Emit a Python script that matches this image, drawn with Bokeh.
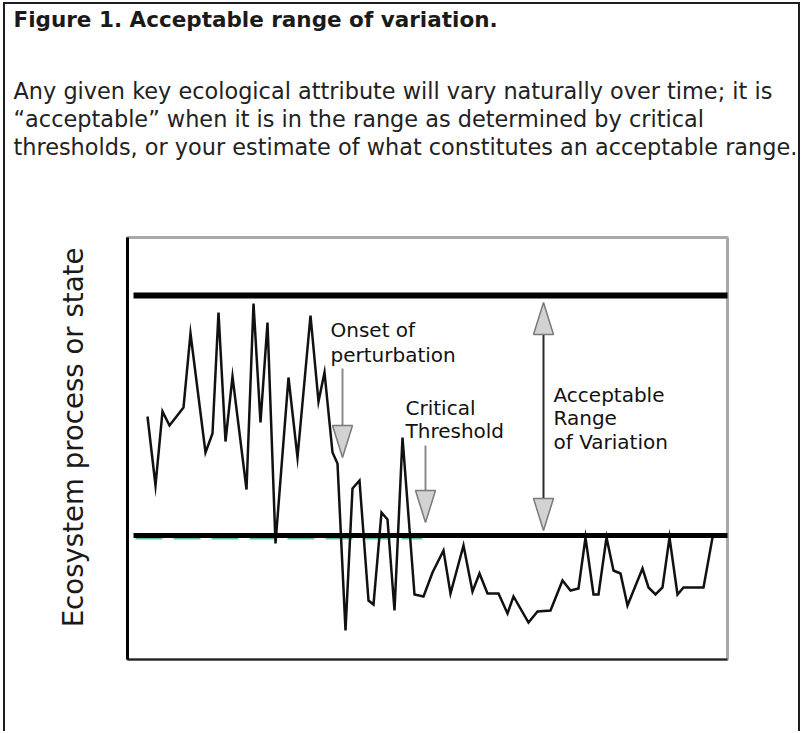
import math
from bokeh.plotting import figure
from bokeh.models import Range1d, Label
from bokeh.layouts import column, row
from bokeh.embed import file_html
from bokeh.resources import INLINE

# ---------------- data ----------------
time = [20, 28, 35, 42, 56, 63, 78, 85, 91, 98, 105, 119, 126, 133, 140, 148, 161, 170, 183, 191,
        197, 205, 210, 218, 225, 232, 241, 246, 254, 260, 267, 275, 287, 296, 305, 316, 323, 336, 345, 352,
        360, 371, 380, 386, 401, 410, 423, 435, 443, 451, 458, 466, 471, 479, 486, 493, 500, 515, 521, 528,
        535, 542, 550, 556, 576, 585]
state = [243, 174, 248, 234, 252, 326, 207, 226, 347, 218, 283, 170, 356, 237, 337, 116, 282, 202, 344, 258,
         287, 207, 196, 29, 171, 179, 59, 55, 147, 140, 49, 222, 65, 63, 87, 109, 66, 114, 68, 86,
         66, 66, 46, 63, 37, 48, 49, 79, 69, 71, 122, 65, 65, 122, 89, 86, 54, 91, 72, 65,
         72, 122, 65, 72, 72, 122]

lower_threshold = 124
upper_threshold = 364
threshold_extent = [6, 603]
green_level = 121
green_extent = [8, 295]

title_text = "Figure 1. Acceptable range of variation."
paragraph_lines = [
    "Any given key ecological attribute will vary naturally over time; it is",
    "\u201cacceptable\u201d when it is in the range as determined by critical",
    "thresholds, or your estimate of what constitutes an acceptable range.",
]
y_label = "Ecosystem process or state"

onset_text = ["Onset of", "perturbation"]
critical_text = ["Critical", "Threshold"]
range_text = ["Acceptable", "Range", "of Variation"]

# arrows (x position, tail, tip) in chart units
onset_arrow = (215, 291, 202)
critical_arrow = (298, 214, 137)
range_arrow = (416, 357, 129)   # x, top tip, bottom tip

FONT = "DejaVu Sans"


def lab(fig, x, y, text, size, style="normal", color="#111111", angle=0, align="left"):
    # small correction so that the glyph baseline sits on y
    fs = float(size.replace("px", ""))
    if angle == 0:
        y = y + 0.4 * fs
    fig.add_layout(Label(x=x, y=y, text=text, text_font=FONT, text_font_size=size,
                         text_font_style=style, text_color=color, angle=angle,
                         text_align=align, text_baseline="alphabetic"))


# ---------------- text panel (title + paragraph) ----------------
TW, TH = 793, 229
tf = figure(width=TW, height=TH, x_range=Range1d(0, TW), y_range=Range1d(0, TH),
            x_axis_type=None, y_axis_type=None, min_border=0, outline_line_color=None,
            output_backend="svg", toolbar_location=None)
tf.grid.visible = False
lab(tf, 8, 205, title_text, "21.5px", style="bold", color="#1a1a1a")
for i, line in enumerate(paragraph_lines):
    lab(tf, 8, 134 - 28 * i, line, "22.4px", color="#222222")

# ---------------- y label panel ----------------
LW, LH = 102, 498
lf = figure(width=LW, height=LH, x_range=Range1d(0, LW), y_range=Range1d(0, LH),
            x_axis_type=None, y_axis_type=None, min_border=0, outline_line_color=None,
            output_backend="svg", toolbar_location=None)
lf.grid.visible = False
lab(lf, 68, 262, y_label, "27.6px", angle=math.pi / 2, align="center", color="#1a1a1a")

# ---------------- chart ----------------
p = figure(width=691, height=LH, x_range=Range1d(0, 600), y_range=Range1d(0, 422),
           output_backend="svg", toolbar_location=None,
           min_border_left=20, min_border_right=71, min_border_top=4, min_border_bottom=72,
           background_fill_color="white", border_fill_color="white",
           outline_line_color="#a9a9a9", outline_line_width=3)
p.grid.visible = False
for ax, col, w in ((p.xaxis, "#222222", 2), (p.yaxis, "#000000", 3)):
    ax.axis_line_color = col
    ax.axis_line_width = w
    ax.major_tick_line_color = None
    ax.minor_tick_line_color = None
    ax.major_tick_out = 0
    ax.major_label_standoff = 0
    ax.major_label_text_font_size = "0px"

# green dashed base line
p.line(green_extent, [green_level, green_level], line_color="#62c29a", line_width=2, line_dash="27 11")

# data line
p.line(time, state, line_color="#111111", line_width=2.5, line_join="miter")

# thresholds
p.line(threshold_extent, [upper_threshold, upper_threshold], line_color="#000000", line_width=6)
p.line(threshold_extent, [lower_threshold, lower_threshold], line_color="#000000", line_width=5)

# arrows
HW, HL = 20, 32


def down_head(x, tip):
    return [x - HW / 2, x + HW / 2, x], [tip + HL, tip + HL, tip]


def up_head(x, tip):
    return [x - HW / 2, x + HW / 2, x], [tip - HL, tip - HL, tip]


for (x, tail, tip) in (onset_arrow, critical_arrow):
    p.segment(x, tail, x, tip + HL, line_color="#8a8a8a", line_width=2)
rx, rtop, rbot = range_arrow
p.segment(rx, rtop - HL, rx, rbot + HL, line_color="#2a2a2a", line_width=2)

heads = [down_head(onset_arrow[0], onset_arrow[2]), down_head(critical_arrow[0], critical_arrow[2]),
         up_head(rx, rtop), down_head(rx, rbot)]
p.patches([h[0] for h in heads], [h[1] for h in heads], fill_color="#d2d2d2",
          line_color="#7a7a7a", line_width=1.5)

for i, t in enumerate(onset_text):
    lab(p, 203, 322 - 25 * i, t, "20px")
for i, t in enumerate(critical_text):
    lab(p, 278, 244 - 23 * i, t, "20px")
for i, t in enumerate(range_text):
    lab(p, 426, 257 - 23.5 * i, t, "20px")

layout = column(tf, row(lf, p))
layout.styles = {"margin-left": "3px", "margin-top": "2px",
                 "border-left": "2px solid #1e1e1e", "border-top": "2px solid #1e1e1e",
                 "border-right": "2px solid #1e1e1e"}

open("out.html", "w").write(file_html(layout, INLINE))
